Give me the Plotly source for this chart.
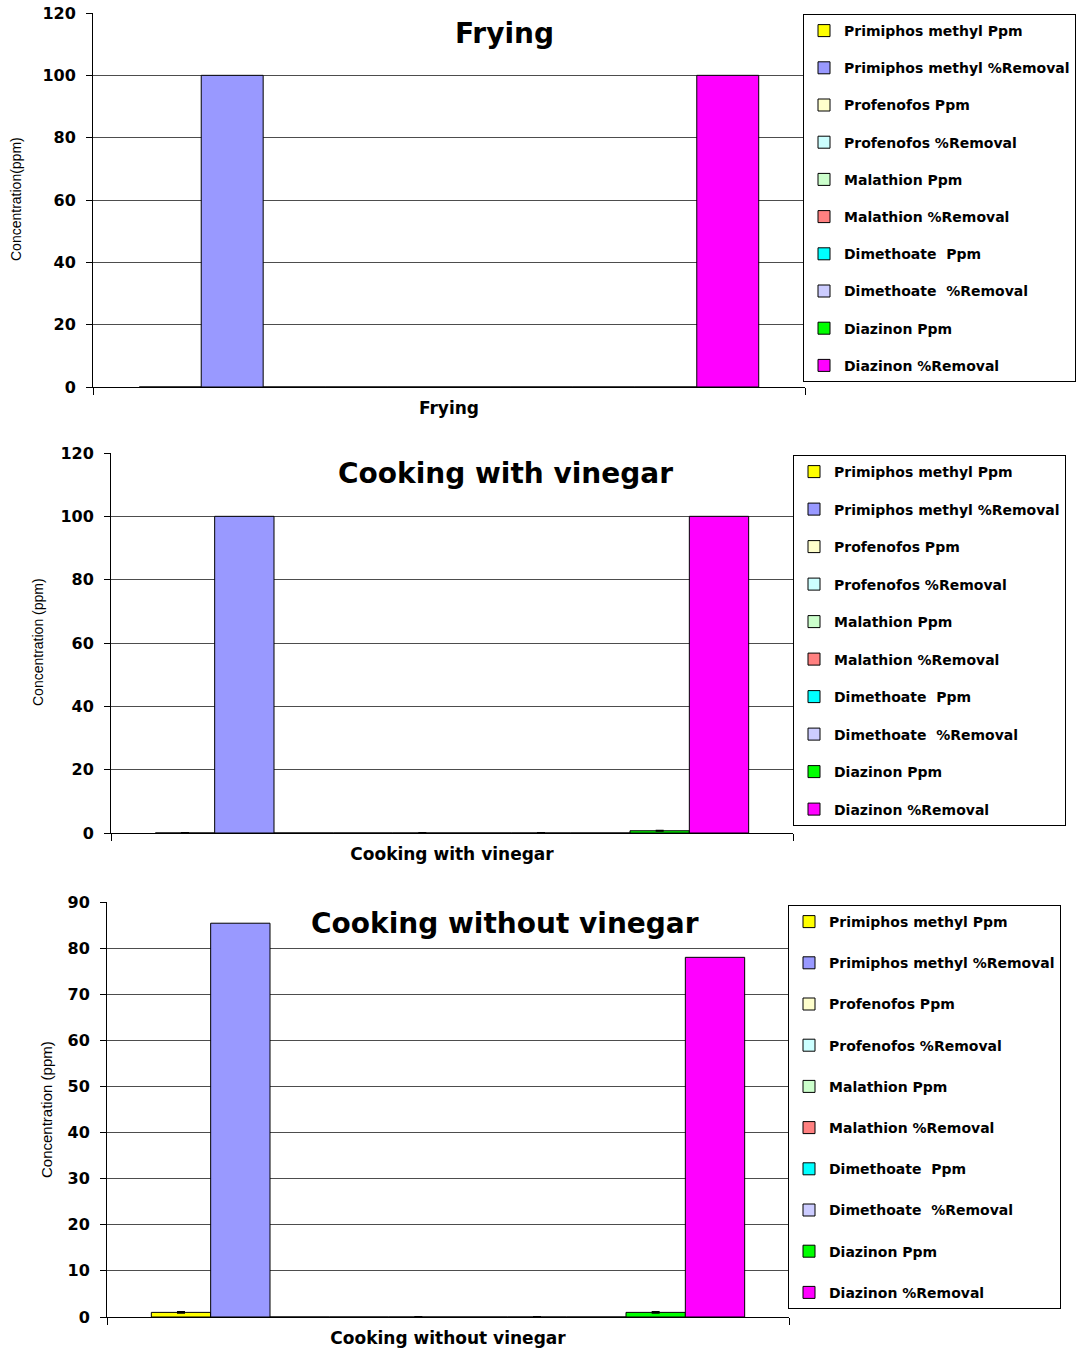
import plotly.graph_objects as go

# Pesticide series shown in every panel (one bar per series)
series_names = [
    "Primiphos methyl Ppm",
    "Primiphos methyl %Removal",
    "Profenofos Ppm",
    "Profenofos %Removal",
    "Malathion Ppm",
    "Malathion %Removal",
    "Dimethoate  Ppm",
    "Dimethoate  %Removal",
    "Diazinon Ppm",
    "Diazinon %Removal",
]
series_colors = [
    "#FFFF00", "#9999FF", "#FFFFCC", "#CCFFFF", "#CCFFCC",
    "#FF8080", "#00FFFF", "#CCCCFF", "#00FF00", "#FF00FF",
]

# Panel 1: frying
frying_cat = "Frying"
frying_vals = [0, 100, 0, 0, 0, 0, 0, 0, 0, 100]
frying_err = [0, 0, 0, 0, 0, 0, 0, 0, 0, 0]

# Panel 2: cooking with vinegar
vinegar_cat = "Cooking with vinegar"
vinegar_vals = [0, 100, 0, 0, 0, 0, 0, 0, 0.7, 100]
vinegar_err = [0.05, 0, 0, 0, 0.05, 0, 0.05, 0, 0.1, 0]

# Panel 3: cooking without vinegar
no_vinegar_cat = "Cooking without vinegar"
no_vinegar_vals = [1.0, 85.4, 0, 0, 0, 0, 0, 0, 1.0, 78.0]
no_vinegar_err = [0.15, 0, 0, 0, 0.05, 0, 0.05, 0, 0.15, 0]

y_title = ["Concentration(ppm)", "Concentration (ppm)", "Concentration (ppm)"]
y_max = [120, 120, 90]
y_step = [20, 20, 10]

W, H = 1082, 1351


def px_x(v):
    return v / W


def px_y(v):
    return 1 - v / H


# panel geometry in pixels: (left, right, top, bottom), legend box (left, top)
panels = [
    dict(cat=frying_cat, vals=frying_vals, err=frying_err,
         box=(93, 805, 13, 387), leg=(803, 14), gap=16,
         title=(504, 33), ytitle=(16, 199, 14)),
    dict(cat=vinegar_cat, vals=vinegar_vals, err=vinegar_err,
         box=(111, 793, 453, 833), leg=(793, 455), gap=16.3,
         title=(505, 473), ytitle=(38, 642, 14)),
    dict(cat=no_vinegar_cat, vals=no_vinegar_vals, err=no_vinegar_err,
         box=(107, 789, 902, 1317), leg=(788, 905), gap=20,
         title=(505, 923), ytitle=(46, 1110, 15)),
]

titles = [frying_cat, vinegar_cat, no_vinegar_cat]

bold = dict(family="DejaVu Sans", weight="bold", color="black")

fig = go.Figure()
layout = dict(
    width=W, height=H,
    margin=dict(l=0, r=0, t=0, b=0, pad=0, autoexpand=False),
    paper_bgcolor="white", plot_bgcolor="white",
    barmode="group", bargap=0.13, bargroupgap=0,
    showlegend=True,
    annotations=[],
)

for k, p in enumerate(panels):
    suffix = "" if k == 0 else str(k + 1)
    leg_name = "legend" + suffix
    for i, name in enumerate(series_names):
        e = p["err"][i]
        fig.add_trace(go.Bar(
            x=[p["cat"]], y=[p["vals"][i]], name=name,
            marker=dict(color=series_colors[i], line=dict(color="black", width=1)),
            xaxis="x" + suffix, yaxis="y" + suffix,
            legend=leg_name, legendgroup=f"p{k}s{i}",
            error_y=dict(type="data", array=[e], visible=e > 0,
                         color="black", thickness=1.5, width=4),
            hoverinfo="x+y+name",
        ))
    l, r, t, b = p["box"]
    layout["xaxis" + suffix] = dict(
        domain=[px_x(l), px_x(r)], anchor="y" + suffix, type="category",
        tickson="boundaries", ticks="outside", ticklen=7, tickcolor="black",
        showline=True, linecolor="black", linewidth=1, showgrid=False,
        ticklabelstandoff=6, automargin=False,
        tickfont=dict(size=17, **bold),
    )
    layout["yaxis" + suffix] = dict(
        domain=[px_y(b), px_y(t)], anchor="x" + suffix,
        range=[0, y_max[k]], dtick=y_step[k], tick0=0,
        ticks="outside", ticklen=6, tickcolor="black",
        showline=True, linecolor="black", linewidth=1,
        showgrid=True, gridcolor="#4d4d4d", gridwidth=1, zeroline=False,
        ticklabelstandoff=7, automargin=False,
        tickfont=dict(size=16, **bold),
    )
    lx, ly = p["leg"]
    layout[leg_name] = dict(
        x=px_x(lx), y=px_y(ly), xanchor="left", yanchor="top",
        bgcolor="white", bordercolor="black", borderwidth=1,
        font=dict(size=14, **bold), tracegroupgap=p["gap"],
        traceorder="grouped",
    )
    tx, ty = p["title"]
    layout["annotations"].append(dict(
        text=titles[k], x=px_x(tx), y=px_y(ty), xref="paper", yref="paper",
        xanchor="center", yanchor="middle", showarrow=False,
        font=dict(size=28, **bold),
    ))
    ax, ay, fs = p["ytitle"]
    layout["annotations"].append(dict(
        text=y_title[k], x=px_x(ax), y=px_y(ay), xref="paper", yref="paper",
        xanchor="center", yanchor="middle", showarrow=False, textangle=-90,
        font=dict(size=fs, family="Liberation Sans", color="black"),
    ))

fig.update_layout(**layout)
fig.write_html("out.html")
